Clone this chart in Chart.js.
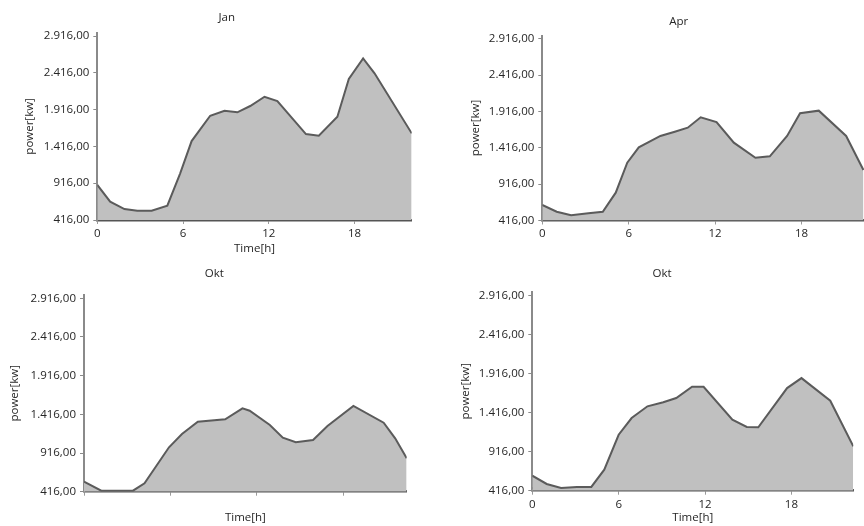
<!DOCTYPE html>
<html>
<head>
<meta charset="utf-8">
<script src="https://cdn.jsdelivr.net/npm/chart.js@4/dist/chart.umd.min.js"></script>
<style>
  html, body { margin: 0; padding: 0; background: #fff; }
  body { position: relative; width: 864px; height: 526px; overflow: hidden; }
  .panel { position: absolute; }
</style>
</head>
<body>
<div class="panel" id="p1"><canvas id="c1"></canvas></div>
<div class="panel" id="p2"><canvas id="c2"></canvas></div>
<div class="panel" id="p3"><canvas id="c3"></canvas></div>
<div class="panel" id="p4"><canvas id="c4"></canvas></div>
<script>
// Axis ticks shared by all four load profiles
const hourTicks = [0, 6, 12, 18];
const powerTicks = [416, 916, 1416, 1916, 2416, 2916];

// January daily load profile (hour of day, power in kW)
const janHours = [0, 0.9, 1.9, 2.8, 3.8, 4.9, 5.8, 6.6, 7.9, 8.9, 9.8, 10.7, 11.7, 12.6, 14.6, 15.5, 16.8, 17.6, 18.6, 19.4, 22];
const janPower = [892, 665, 565, 542, 542, 610, 1050, 1489, 1833, 1901, 1879, 1965, 2091, 2033, 1584, 1561, 1819, 2332, 2613, 2409, 1594];

// April
const aprHours = [0, 1, 2, 3.2, 4.2, 5.1, 5.9, 6.7, 8.2, 9.2, 10.1, 11, 12.1, 13.3, 14.8, 15.8, 17, 17.9, 19.2, 21.1, 22.3];
const aprPower = [629, 537, 488, 515, 537, 799, 1211, 1423, 1579, 1638, 1693, 1836, 1771, 1487, 1280, 1299, 1579, 1891, 1927, 1579, 1111];

// October, first profile
const okt1Hours = [0, 1.2, 3.4, 4.2, 5.9, 6.8, 7.9, 9.8, 11, 11.5, 12.9, 13.8, 14.7, 15.9, 16.9, 18.7, 20.8, 21.6, 22.4];
const okt1Power = [545, 429, 429, 525, 990, 1162, 1321, 1352, 1494, 1463, 1278, 1114, 1055, 1084, 1265, 1524, 1308, 1106, 848];

// October, second profile plus its base load line
const okt2Hours = [0, 1, 2, 3.1, 4.1, 5, 6, 6.9, 8, 9.1, 10, 11.1, 11.9, 13.9, 14.9, 15.7, 17.7, 18.7, 20.7, 22.3];
const okt2Power = [608, 502, 451, 464, 464, 685, 1132, 1346, 1496, 1547, 1602, 1746, 1746, 1324, 1231, 1227, 1729, 1857, 1567, 984];
const okt2BaseHours = [0, 10, 22.3];
const okt2BasePower = [450, 425, 418];

const FONT = { family: '"Open Sans", "Liberation Sans", sans-serif', size: 11.5 };
const TEXT = '#262626';

function formatDe(v) {
  const parts = Number(v).toFixed(2).split('.');
  return parts[0].replace(/\B(?=(\d{3})+(?!\d))/g, '.') + ',' + parts[1];
}

function points(xs, ys) {
  return xs.map((x, i) => ({ x: x, y: ys[i] }));
}

// Month caption, centred at a fixed spot above each plot
const panelTitle = {
  id: 'panelTitle',
  afterDraw(chart, args, opts) {
    const ctx = chart.ctx;
    ctx.save();
    ctx.font = FONT.size + 'px ' + FONT.family;
    ctx.fillStyle = TEXT;
    ctx.textAlign = 'center';
    ctx.textBaseline = 'middle';
    ctx.fillText(opts.text, opts.x, opts.y);
    ctx.restore();
  }
};

function makePanel(p) {
  const box = document.getElementById(p.box);
  box.style.left = p.left + 'px';
  box.style.top = p.top + 'px';
  box.style.width = p.width + 'px';
  box.style.height = p.height + 'px';

  const datasets = [{
    data: points(p.hours, p.power),
    borderColor: '#5b5b5b',
    borderWidth: 2,
    backgroundColor: '#c0c0c0',
    fill: 'start',
    pointRadius: 0,
    tension: 0
  }];
  if (p.baseHours) {
    datasets.push({
      data: points(p.baseHours, p.basePower),
      borderColor: '#5b5b5b',
      borderWidth: 1.5,
      fill: false,
      pointRadius: 0,
      tension: 0
    });
  }

  new Chart(document.getElementById(p.canvas), {
    type: 'line',
    data: { datasets: datasets },
    plugins: [panelTitle],
    options: {
      responsive: true,
      maintainAspectRatio: false,
      animation: false,
      events: [],
      layout: { padding: { left: 0, right: p.padRight, top: p.padTop, bottom: 0 } },
      plugins: {
        legend: { display: false },
        tooltip: { enabled: false },
        title: { display: false },
        panelTitle: { text: p.title, x: p.titleX, y: p.titleY }
      },
      scales: {
        x: {
          type: 'linear',
          min: 0,
          max: p.xMax,
          z: 1,
          afterBuildTicks: s => { s.ticks = hourTicks.map(v => ({ value: v })); },
          afterFit: s => { s.height = p.xHeight; },
          border: { display: true, color: '#555555', width: 2.5 },
          grid: { drawOnChartArea: false, drawTicks: true, tickLength: 4, color: '#9a9a9a' },
          ticks: {
            display: p.xLabels,
            color: TEXT,
            font: FONT,
            padding: p.xTickPad,
            maxRotation: 0,
            callback: v => String(v)
          },
          title: {
            display: p.xTitle,
            text: 'Time[h]',
            color: TEXT,
            font: FONT,
            padding: { top: 0, bottom: p.xTitlePad }
          }
        },
        y: {
          type: 'linear',
          min: 416,
          max: 2960,
          z: 1,
          afterBuildTicks: s => { s.ticks = powerTicks.map(v => ({ value: v })); },
          afterFit: s => { s.width = p.yWidth; },
          border: { display: true, color: '#8a8a8a', width: 2 },
          grid: { drawOnChartArea: false, drawTicks: true, tickLength: 4, color: '#8a8a8a' },
          ticks: { color: TEXT, font: FONT, padding: 4, callback: v => formatDe(v) },
          title: {
            display: true,
            text: 'power[kw]',
            color: TEXT,
            font: FONT,
            padding: { top: p.yTitlePad, bottom: 0 }
          }
        }
      }
    }
  });
}

makePanel({
  box: 'p1', canvas: 'c1', title: 'Jan', titleX: 226.7, titleY: 17.5,
  left: 0, top: 0, width: 453, height: 262,
  hours: janHours, power: janPower,
  yWidth: 97.3, padRight: 41.3, padTop: 32.8,
  xHeight: 42, xTickPad: 2.4, xLabels: true, xTitle: true, xTitlePad: 6.8,
  yTitlePad: 22.4, xMax: 22
});

makePanel({
  box: 'p2', canvas: 'c2', title: 'Apr', titleX: 246.7, titleY: 21.7,
  left: 432, top: 0, width: 493, height: 262,
  hours: aprHours, power: aprPower,
  yWidth: 110.3, padRight: 51.5, padTop: 35.6,
  xHeight: 41.5, xTickPad: 1.9, xLabels: true, xTitle: false, xTitlePad: 0,
  yTitlePad: 36.4, xMax: 23
});

makePanel({
  box: 'p3', canvas: 'c3', title: 'Okt', titleX: 214.3, titleY: 11.7,
  left: 0, top: 262, width: 429, height: 264,
  hours: okt1Hours, power: okt1Power,
  yWidth: 84, padRight: 22.3, padTop: 32.9,
  xHeight: 34.3, xTickPad: 2, xLabels: false, xTitle: true, xTitlePad: 1.1,
  yTitlePad: 8.1, xMax: 22.4
});

makePanel({
  box: 'p4', canvas: 'c4', title: 'Okt', titleX: 230, titleY: 12,
  left: 432, top: 262, width: 460, height: 264,
  hours: okt2Hours, power: okt2Power,
  baseHours: okt2BaseHours, basePower: okt2BasePower,
  yWidth: 100.3, padRight: 38.7, padTop: 29.9,
  xHeight: 35.3, xTickPad: 3.1, xLabels: true, xTitle: true, xTitlePad: 1.1,
  yTitlePad: 26.4, xMax: 22.3
});
</script>
</body>
</html>
